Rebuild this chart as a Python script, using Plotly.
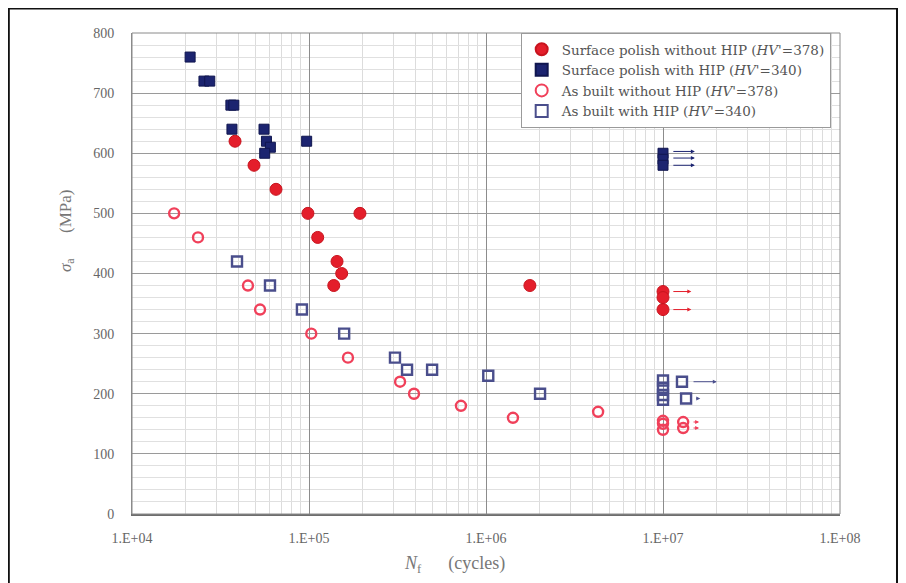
import math
import plotly.graph_objects as go

# ---- data (cycles to failure N_f, stress amplitude sigma_a in MPa) ----
sp_noHIP_N = [38200, 48900, 65100, 98600, 112000, 144000, 153000, 138000, 194000, 1770000,
              1.0e7, 1.0e7, 1.0e7]
sp_noHIP_S = [620, 580, 540, 500, 460, 420, 400, 380, 500, 380,
              370, 360, 340]

sp_HIP_N = [21300, 25500, 27500, 36200, 37600, 36700, 55700, 57500, 60500, 56200, 97000,
            1.0e7, 1.0e7, 1.0e7]
sp_HIP_S = [760, 720, 720, 680, 680, 640, 640, 620, 610, 600, 620,
            600, 590, 580]

ab_noHIP_N = [17300, 23600, 45200, 52900, 103000, 166000, 327000, 392000, 722000, 1420000, 4300000,
              1.0e7, 1.0e7, 1.0e7, 1.3e7, 1.3e7]
ab_noHIP_S = [500, 460, 380, 340, 300, 260, 220, 200, 180, 160, 170,
              155, 150, 140, 153, 143]

ab_HIP_N = [39200, 60200, 91200, 158000, 306000, 358000, 496000, 1030000, 2020000,
            1.0e7, 1.0e7, 1.0e7, 1.0e7, 1.28e7, 1.35e7]
ab_HIP_S = [420, 380, 340, 300, 260, 240, 240, 230, 200,
            222, 210, 198, 190, 220, 192]

# run-out arrows (specimens not failed): start cycle, stress, arrow length in decades
runout_N = [1.0e7, 1.0e7, 1.0e7, 1.0e7, 1.0e7, 1.3e7, 1.3e7, 1.3e7, 1.35e7]
runout_S = [603, 592, 580, 370, 340, 153, 143, 220, 192]
runout_L = [0.13, 0.13, 0.13, 0.11, 0.11, 0.04, 0.04, 0.14, 0.03]
runout_C = ["#1c2470", "#1c2470", "#1c2470", "#e41e2b", "#e41e2b",
            "#f0405a", "#f0405a", "#4a4e8c", "#4a4e8c"]

x_tickvals = [1e4, 1e5, 1e6, 1e7, 1e8]
x_ticktext = ["1.E+04", "1.E+05", "1.E+06", "1.E+07", "1.E+08"]
y_tickvals = [0, 100, 200, 300, 400, 500, 600, 700, 800]

names = ["Surface polish without HIP (<i>HV</i>'=378)",
         "Surface polish with HIP (<i>HV</i>'=340)",
         "As built without HIP (<i>HV</i>'=378)",
         "As built with HIP (<i>HV</i>'=340)"]

RED = "#e41e2b"
NAVY = "#1c2470"
RED_O = "#f0405a"
NAVY_O = "#4a4e8c"
SERIF = "Liberation Serif"

fig = go.Figure()
fig.add_trace(go.Scatter(x=sp_noHIP_N, y=sp_noHIP_S, mode="markers", name=names[0],
                         marker=dict(symbol="circle", size=12, color=RED,
                                     line=dict(color="#c8141e", width=1))))
fig.add_trace(go.Scatter(x=sp_HIP_N, y=sp_HIP_S, mode="markers", name=names[1],
                         marker=dict(symbol="square", size=10, color=NAVY,
                                     line=dict(color="#10164f", width=1))))
fig.add_trace(go.Scatter(x=ab_noHIP_N, y=ab_noHIP_S, mode="markers", name=names[2],
                         marker=dict(symbol="circle-open", size=10, color=RED_O,
                                     line=dict(color=RED_O, width=2.4))))
fig.add_trace(go.Scatter(x=ab_HIP_N, y=ab_HIP_S, mode="markers", name=names[3],
                         marker=dict(symbol="square-open", size=10, color=NAVY_O,
                                     line=dict(color=NAVY_O, width=2.4))))

for n, s, L, c in zip(runout_N, runout_S, runout_L, runout_C):
    x0 = math.log10(n) + 0.05
    fig.add_annotation(x=x0 + L, y=s, ax=x0, ay=s, xref="x", yref="y", axref="x", ayref="y",
                       text="", showarrow=True, arrowhead=2, arrowsize=0.8, arrowwidth=1,
                       arrowcolor=c)

minor_x = [k * 10 ** e for e in range(4, 8) for k in range(2, 10)]

fig.update_xaxes(type="log", range=[4, 8], tickvals=x_tickvals, ticktext=x_ticktext,
                 showgrid=True, gridcolor="#8c8c8c", gridwidth=1,
                 minor=dict(tickvals=minor_x, showgrid=True, gridcolor="#dcdcdc", gridwidth=1,
                            ticklen=0),
                 showline=True, linecolor="#6e6e6e", linewidth=2, mirror=False,
                 ticks="", tickfont=dict(family=SERIF, size=14, color="#666666"),
                 ticklabelstandoff=10, zeroline=False)
fig.update_yaxes(range=[0, 800], tickvals=y_tickvals,
                 showgrid=True, gridcolor="#9a9a9a", gridwidth=1,
                 minor=dict(dtick=20, showgrid=True, gridcolor="#e0e0e0", gridwidth=1, ticklen=0),
                 showline=True, linecolor="#8a8a8a", linewidth=1,
                 ticks="", tickfont=dict(family=SERIF, size=14, color="#666666"),
                 ticklabelstandoff=14, zeroline=False)

# plot-area frame (top/right)
fig.add_shape(type="rect", xref="paper", yref="paper", x0=0, x1=1, y0=0, y1=1,
              line=dict(color="#8a8a8a", width=1), layer="above")
# outer figure frame
fig.add_shape(type="rect", xref="paper", yref="paper", x0=-0.174, x1=1.0805, y0=-0.2, y1=1.051,
              line=dict(color="#111111", width=2), layer="above")

fig.add_annotation(x=-0.092, y=0.59, xref="paper", yref="paper", showarrow=False,
                   xanchor="center", yanchor="middle",
                   text="<i>σ</i><sub>a</sub>      (MPa)", textangle=-90,
                   font=dict(family=SERIF, size=17, color="#777777"))
fig.add_annotation(x=0.455, y=-0.106, xref="paper", yref="paper", showarrow=False,
                   xanchor="center", yanchor="middle",
                   text="<i>N</i><sub>f</sub>      (cycles)",
                   font=dict(family=SERIF, size=18, color="#777777"))

fig.update_layout(width=898, height=575,
                  margin=dict(l=124, r=66, t=25, b=69),
                  paper_bgcolor="white", plot_bgcolor="white",
                  showlegend=True,
                  legend=dict(x=0.549, y=1.0, xanchor="left", yanchor="top",
                              bgcolor="white", bordercolor="#9a9a9a", borderwidth=1,
                              font=dict(family="DejaVu Serif", size=13.5, color="#555555"),
                              itemsizing="constant", tracegroupgap=0,
                              itemwidth=30))

fig.write_html("out.html")
